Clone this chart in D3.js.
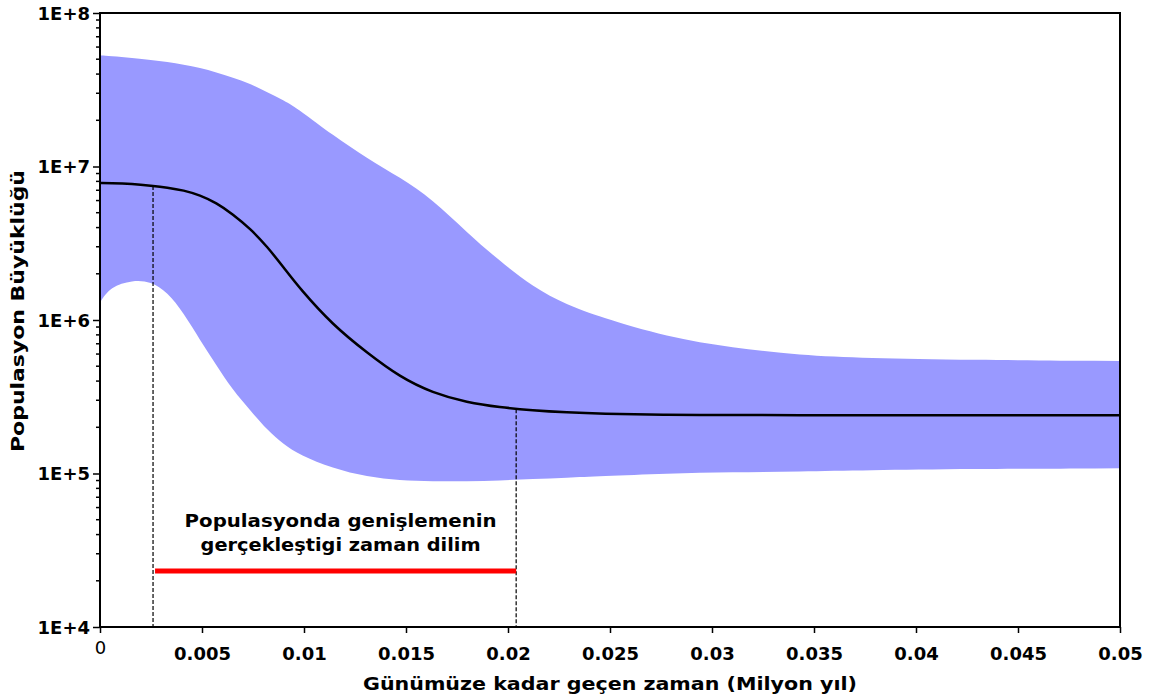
<!DOCTYPE html>
<html><head><meta charset="utf-8">
<script src="https://cdn.jsdelivr.net/npm/d3@7"></script>
<style>
body{margin:0;background:#fff;}
text{font-family:"DejaVu Sans",sans-serif;font-weight:bold;fill:#000;}
</style></head>
<body><svg id="c" width="1151" height="699"></svg>
<script>
// time before present (Milyon yıl)
const times = [0, 0.0005, 0.0016, 0.0025, 0.0033, 0.0041, 0.0049, 0.0057, 0.0065, 0.0074, 0.0082, 0.009, 0.0098, 0.0114, 0.0131, 0.0147, 0.0163, 0.018, 0.0196, 0.0212, 0.0229, 0.0245, 0.0278, 0.031, 0.0343, 0.0376, 0.0425, 0.05];
const upper95 = [5.3e7, 5.25e7, 5.1e7, 4.95e7, 4.8e7, 4.6e7, 4.4e7, 4.1e7, 3.8e7, 3.45e7, 3.05e7, 2.7e7, 2.33e7, 1.6e7, 1.13e7, 8.5e6, 6.1e6, 3.7e6, 2.42e6, 1.65e6, 1.25e6, 1.05e6, 7.75e5, 6.6e5, 5.9e5, 5.65e5, 5.5e5, 5.4e5];
const median = [7.8e6, 7.8e6, 7.7e6, 7.5e6, 7.3e6, 7.0e6, 6.5e6, 5.8e6, 4.9e6, 3.9e6, 3.0e6, 2.2e6, 1.6e6, 9.3e5, 6.1e5, 4.25e5, 3.35e5, 2.9e5, 2.7e5, 2.58e5, 2.5e5, 2.45e5, 2.41e5, 2.40e5, 2.40e5, 2.40e5, 2.40e5, 2.40e5];
const lower95 = [1.3e6, 1.65e6, 1.82e6, 1.78e6, 1.52e6, 1.11e6, 7.4e5, 5.1e5, 3.5e5, 2.55e5, 1.92e5, 1.55e5, 1.32e5, 1.08e5, 9.5e4, 9.0e4, 8.9e4, 8.9e4, 9.0e4, 9.2e4, 9.4e4, 9.6e4, 1.0e5, 1.02e5, 1.03e5, 1.05e5, 1.07e5, 1.08e5];

const xTicks = [0, 0.005, 0.01, 0.015, 0.02, 0.025, 0.03, 0.035, 0.04, 0.045, 0.05];
const xTickLabels = ["0", "0.005", "0.01", "0.015", "0.02", "0.025", "0.03", "0.035", "0.04", "0.045", "0.05"];
const yTicks = [1e4, 1e5, 1e6, 1e7, 1e8];
const yTickLabels = ["1E+4", "1E+5", "1E+6", "1E+7", "1E+8"];

const expansionStart = 0.0026, expansionEnd = 0.0204;
const expansionStartN = 7.46e6, expansionEndN = 2.62e5;
const barLevel = 2.32e4;
const annotationLines = ["Populasyonda genişlemenin", "gerçekleştigi zaman dilim"];
const annotationLevels = [4.48e4, 3.13e4];
const xTitle = "Günümüze kadar geçen zaman (Milyon yıl)";
const yTitle = "Populasyon Büyüklüğü";

const m = {l:100, t:13, r:1120, b:627};
const svg = d3.select("#c");
const x = d3.scaleLinear().domain([0, 0.05]).range([m.l, m.r]);
const y = d3.scaleLog().domain([1e4, 1e8]).range([m.b, m.t]);

const pts = times.map((t,i)=>({t, u:upper95[i], md:median[i], lo:lower95[i]}));
const curve = d3.curveBasis;

svg.append("path").datum(pts)
  .attr("d", d3.area().x(d=>x(d.t)).y0(d=>y(d.lo)).y1(d=>y(d.u)).curve(curve))
  .attr("fill", "#9999ff");

svg.append("path").datum(pts)
  .attr("d", d3.line().x(d=>x(d.t)).y(d=>y(d.md)).curve(curve))
  .attr("fill", "none").attr("stroke", "#000").attr("stroke-width", 2.5);

// dashed markers
[[expansionStart, expansionStartN],[expansionEnd, expansionEndN]].forEach(([t,n])=>{
  svg.append("line").attr("x1", x(t)).attr("x2", x(t)).attr("y1", y(n)).attr("y2", y(1e4))
    .attr("stroke", "#000").attr("stroke-width", 1.2).attr("stroke-dasharray", "4,2");
});
svg.append("line").attr("x1", x(expansionStart)+2).attr("x2", x(expansionEnd))
  .attr("y1", y(barLevel)).attr("y2", y(barLevel)).attr("stroke", "#ff0000").attr("stroke-width", 5);
const annWidths = [312, 280];
annotationLines.forEach((s,i)=>{
  svg.append("text").attr("x", x((expansionStart+expansionEnd)/2)+6).attr("y", y(annotationLevels[i]))
    .attr("text-anchor", "middle").attr("font-size", 17)
    .attr("textLength", annWidths[i]).attr("lengthAdjust", "spacingAndGlyphs").text(s);
});

// frame
svg.append("rect").attr("x", m.l).attr("y", m.t).attr("width", m.r-m.l).attr("height", m.b-m.t)
  .attr("fill", "none").attr("stroke", "#000").attr("stroke-width", 2);

// y axis
const yAxis = d3.axisLeft(y).tickValues(yTicks).tickFormat((d,i)=>yTickLabels[i]).tickSize(7).tickPadding(3);
const gy = svg.append("g").attr("transform", `translate(${m.l},0)`).call(yAxis);
gy.select(".domain").remove();
gy.selectAll("line").attr("stroke-width", 1.5);
gy.selectAll("text").attr("font-size", 18).attr("dy", "0.35em").attr("font-family", "DejaVu Sans");
const minors = [];
for (let e=4; e<8; e++) for (let k=2; k<10; k++) minors.push(k*Math.pow(10,e));
svg.append("g").selectAll("line").data(minors).join("line")
  .attr("x1", m.l-4).attr("x2", m.l).attr("y1", d=>y(d)).attr("y2", d=>y(d))
  .attr("stroke", "#000").attr("stroke-width", 1.5);

// x axis
const xAxis = d3.axisBottom(x).tickValues(xTicks).tickFormat((d,i)=>xTickLabels[i]).tickSize(6).tickPadding(14);
const gx = svg.append("g").attr("transform", `translate(0,${m.b})`).call(xAxis);
gx.select(".domain").remove();
gx.selectAll("line").attr("stroke-width", 1.5);
gx.selectAll("text").attr("font-size", 18).attr("font-family", "DejaVu Sans");
gx.selectAll(".tick").filter(d=>d===0).select("text").style("font-weight", "normal").attr("dy", "0.4em");

svg.append("text").attr("x", 610).attr("y", 690).attr("text-anchor", "middle")
  .attr("font-size", 18).attr("textLength", 494).attr("lengthAdjust", "spacingAndGlyphs").text(xTitle);
svg.append("text").attr("transform", `translate(24,311) rotate(-90)`).attr("text-anchor", "middle")
  .attr("font-size", 18).attr("textLength", 282).attr("lengthAdjust", "spacingAndGlyphs").text(yTitle);
</script></body></html>
